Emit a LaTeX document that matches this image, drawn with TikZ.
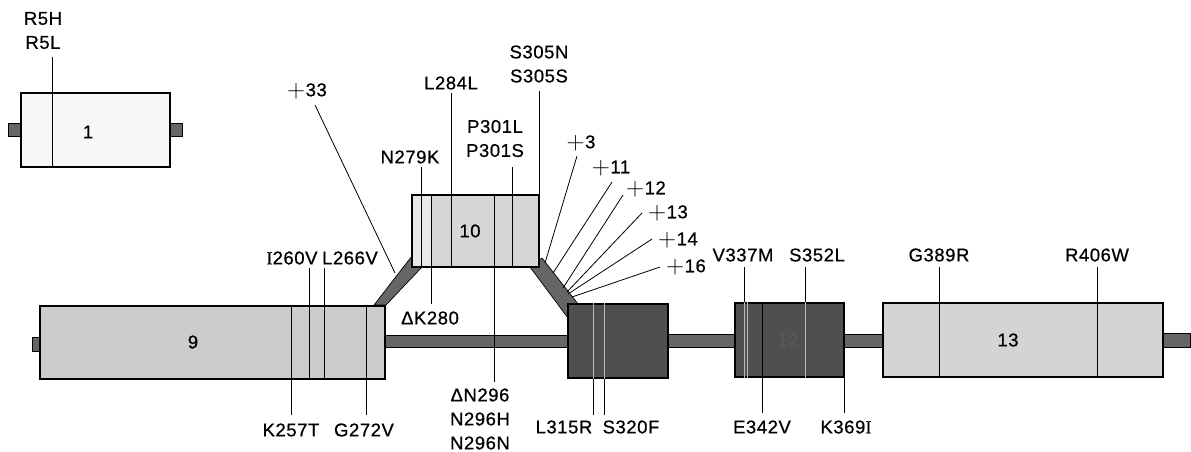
\documentclass[tikz,border=0pt]{standalone}
\usepackage{fontspec}
\usepackage{graphicx}
\setmainfont{Liberation Sans}[LetterSpace=3, FakeBold=0.6]
\newfontfamily\serifI{Liberation Serif}[FakeBold=0.6]
\newcommand{\pl}{\raisebox{-1pt}{\scalebox{1.45}{$+$}}\hspace{0.5pt}}
\definecolor{exlight}{gray}{0.80}
\definecolor{exten}{gray}{0.84}
\definecolor{exwhite}{gray}{0.97}
\definecolor{exdark}{gray}{0.31}
\definecolor{intgray}{gray}{0.40}
\begin{document}
\begin{tikzpicture}[x=1pt,y=-1pt,
  lab/.style={font=\fontsize{18.5}{24}\selectfont, inner sep=0pt, align=center},
  exon/.style={draw=black, line width=1.2pt, inner sep=0pt, rectangle},
  intr/.style={fill=intgray, draw=black, line width=0.7pt},
  mut/.style={draw=black, line width=0.8pt},
  mutlight/.style={draw=gray!55, line width=0.8pt}]
\useasboundingbox (0,0) rectangle (1191,451);

% ramps (exon 10 alternative splicing)
\filldraw[intr] (374,305) -- (386,305) -- (422,267) -- (412,256) -- cycle;
\filldraw[intr] (530,267) -- (542,258) -- (578,304) -- (568,318) -- cycle;

% intron bars / stubs
\filldraw[intr] (8,123) rectangle (21,136);
\filldraw[intr] (170,123) rectangle (182,136);
\filldraw[intr] (32,337) rectangle (40,351);
\filldraw[intr] (385,335) rectangle (568,347);
\filldraw[intr] (668,334) rectangle (735,347);
\filldraw[intr] (844,334) rectangle (883,347);
\filldraw[intr] (1163,333) rectangle (1190,347);

% exons
\node[exon, fill=exwhite, minimum width=149pt, minimum height=74pt] (e1) at (95.5,130) {};
\node[exon, fill=exlight, minimum width=345pt, minimum height=73pt] (e9) at (212.5,342.5) {};
\node[exon, fill=exten, minimum width=127pt, minimum height=72pt] (e10) at (475.5,231) {};
\fill[gray!8, opacity=0.6] (412.6,195.6) rectangle (430.5,266.4);
\node[exon, fill=exdark, minimum width=100pt, minimum height=74pt] (e11) at (618,341) {};
\node[exon, fill=exdark, minimum width=109pt, minimum height=74pt] (e12) at (789.5,340) {};
\node[exon, fill=exlight!85!white, minimum width=280pt, minimum height=74pt] (e13) at (1023,340) {};

% exon numbers
\node[lab] (n1) at (88,132) {1};
\node[lab] (n9) at (193,342) {9};
\node[lab] (n10) at (470,231) {10};
\node[lab, text=gray!70!black] (n12) at (788,340) {12};
\node[lab] (n13) at (1008,340) {13};

% mutation labels
\node[lab] (r5) at (43,30.5) {R5H\\R5L};
\node[lab] (p33) at (307,91) {\pl33};
\node[lab] (l284) at (451,83) {L284L};
\node[lab] (s305) at (539,64) {S305N\\S305S};
\node[lab] (n279) at (410,157) {N279K};
\node[lab] (p301) at (495,138.5) {P301L\\P301S};
\node[lab] (p3) at (581,143) {\pl3};
\node[lab] (p11) at (611,168) {\pl11};
\node[lab] (p12) at (646,189) {\pl12};
\node[lab] (p13) at (668,213) {\pl13};
\node[lab] (p14) at (678,240) {\pl14};
\node[lab] (p16) at (686,267) {\pl16};
\node[lab] (i260) at (292,258) {{\serifI I}260V};
\node[lab] (l266) at (350,258) {L266V};
\node[lab] (v337) at (743,255) {V337M};
\node[lab] (s352) at (817,255) {S352L};
\node[lab] (g389) at (939,255) {G389R};
\node[lab] (r406) at (1097,255) {R406W};
\node[lab] (dk280) at (430,318) {ΔK280};
\node[lab] (k257) at (291,430) {K257T};
\node[lab] (g272) at (364,430) {G272V};
\node[lab] (n296) at (480,419) {ΔN296\\N296H\\N296N};
\node[lab] (l315) at (564,427) {L315R};
\node[lab] (s320) at (631,427) {S320F};
\node[lab] (e342) at (762,427) {E342V};
\node[lab] (k369) at (846,427) {K369{\serifI I}};

% line end points
\coordinate (t5) at (52,57);
\coordinate (t33) at (315,105);   \coordinate (b33) at (395,273);
\coordinate (t284) at (451,93);
\coordinate (t305) at (539,91);
\coordinate (t279) at (421,167);
\coordinate (t301) at (512,167);
\coordinate (t280) at (431,304);
\coordinate (t296) at (494,382);
\coordinate (t260) at (309,268);
\coordinate (t266) at (324,268);
\coordinate (t257) at (291,415);
\coordinate (t272) at (366,415);
\coordinate (t315) at (593,415);
\coordinate (t320) at (604,415);
\coordinate (t337) at (744,267);
\coordinate (t352) at (805,267);
\coordinate (t342) at (762,413);
\coordinate (t369) at (844,413);
\coordinate (t389) at (939,267);
\coordinate (t406) at (1097,267);
\coordinate (a3) at (577,156);  \coordinate (c3) at (545,263);
\coordinate (a11) at (612,182); \coordinate (c11) at (553,273);
\coordinate (a12) at (623,195); \coordinate (c12) at (563,288);
\coordinate (a13) at (642,213); \coordinate (c13) at (567,292);
\coordinate (a14) at (652,239); \coordinate (c14) at (568,294);
\coordinate (a16) at (660,267); \coordinate (c16) at (572,297);

% mutation lines
\draw[mut] (t5) -- (t5 |- e1.south);
\draw[mut] (t33) -- (b33);
\draw[mut] (t284) -- (t284 |- e10.south);
\draw[mut] (t305) -- (t305 |- e10.north);
\draw[mut] (t279) -- (t279 |- e10.south);
\draw[mut] (t301) -- (t301 |- e10.south);
\draw[mut] (t280 |- e10.north) -- (t280);
\draw[mut] (t296 |- e10.north) -- (t296);
\draw[mut] (t260) -- (t260 |- e9.south);
\draw[mut] (t266) -- (t266 |- e9.south);
\draw[mut] (t257 |- e9.north) -- (t257);
\draw[mut] (t272 |- e9.north) -- (t272);
\draw[mutlight] (t315 |- e11.north) -- (t315 |- e11.south);
\draw[mutlight] (t320 |- e11.north) -- (t320 |- e11.south);
\draw[mut] (t315 |- e11.south) -- (t315);
\draw[mut] (t320 |- e11.south) -- (t320);
\draw[mut] (t337) -- (t337 |- e12.north);
\draw[mutlight] (t337 |- e12.north) -- (t337 |- e12.south);
\draw[mutlight] ([xshift=3pt]t337 |- e12.north) -- ([xshift=3pt]t337 |- e12.south);
\draw[mut] (t352) -- (t352 |- e12.north);
\draw[mutlight] (t352 |- e12.north) -- (t352 |- e12.south);
\draw[mut] (t342 |- e12.north) -- (t342);
\draw[mut] (t369 |- e12.south) -- (t369);
\draw[mut] (t389) -- (t389 |- e13.south);
\draw[mut] (t406) -- (t406 |- e13.south);
\draw[mut] (a3) -- (c3);
\draw[mut] (a11) -- (c11);
\draw[mut] (a12) -- (c12);
\draw[mut] (a13) -- (c13);
\draw[mut] (a14) -- (c14);
\draw[mut] (a16) -- (c16);
\end{tikzpicture}
\end{document}
